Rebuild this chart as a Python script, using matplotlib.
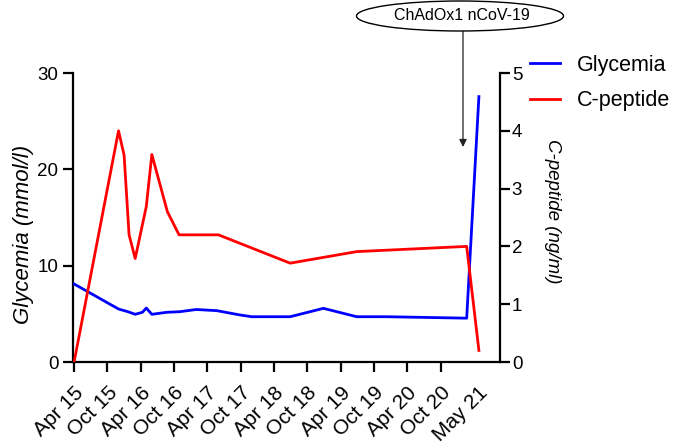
import matplotlib
matplotlib.use("Agg")
import matplotlib.pyplot as plt
from matplotlib.patches import Ellipse
import numpy as np

plt.rcParams['font.family'] = ['Liberation Sans', 'DejaVu Sans']

# months since April 2015
gly_month = [0, 8, 9.8, 11, 12.3, 13, 14, 16.7, 19, 22, 25.7, 29.9, 32, 38.9, 44.9, 50.9, 56.3, 70.7, 72.9]
gly_value = [8.1, 5.5, 5.2, 4.95, 5.16, 5.6, 4.95, 5.16, 5.22, 5.45, 5.33, 4.88, 4.7, 4.7, 5.57, 4.7, 4.7, 4.55, 27.55]

cpep_month = [0, 8, 9, 9.9, 11, 13, 14, 16.8, 18.9, 26, 38.9, 50.9, 70.7, 72.9]
cpep_value = [0, 4.0, 3.58, 2.2, 1.79, 2.69, 3.59, 2.6, 2.2, 2.2, 1.71, 1.91, 2.0, 0.2]

tick_months = [0, 6, 12, 18, 24, 30, 36, 42, 48, 54, 60, 66, 72.7]
tick_labels = ['Apr 15', 'Oct 15', 'Apr 16', 'Oct 16', 'Apr 17', 'Oct 17', 'Apr 18',
               'Oct 18', 'Apr 19', 'Oct 19', 'Apr 20', 'Oct 20', 'May 21']

W, H = 683, 444
fig = plt.figure(figsize=(W/100, H/100), dpi=100)
L, R, T, B = 73, 500, 73, 362
ax = fig.add_axes([L/W, 1-B/H, (R-L)/W, (B-T)/H])
ax2 = ax.twinx()

lg, = ax.plot(gly_month, gly_value, color='#0000FF', lw=2.0, label='Glycemia', zorder=3)
lc, = ax2.plot(cpep_month, cpep_value, color='#FF0000', lw=2.0, label='C-peptide', zorder=3)

ax.set_xlim(-0.2, 76.7)
ax.set_ylim(0, 30)
ax2.set_ylim(0, 5)
ax.set_yticks([0, 10, 20, 30])
ax2.set_yticks([0, 1, 2, 3, 4, 5])

ax.set_xticks(tick_months)
ax.set_xticklabels(tick_labels, rotation=45, ha='right', rotation_mode='anchor', fontsize=15)
ax.get_xticklines()[-2].set_visible(False)

for a in (ax, ax2):
    for s in a.spines.values():
        s.set_linewidth(1.6)
    a.spines['top'].set_visible(False)
ax.spines['right'].set_visible(False)
ax2.spines['left'].set_visible(False)
ax2.spines['bottom'].set_visible(False)

ax.tick_params(axis='y', direction='out', length=7, width=1.6, labelsize=13.5, pad=3.5)
ax.tick_params(axis='x', direction='out', length=7, width=1.6, labelsize=15, pad=8)
ax2.tick_params(axis='y', direction='out', length=7, width=1.6, labelsize=13.5, pad=1.5)

fig.text(24/W, 1-234/H, 'Glycemia (mmol/l)', rotation=90, style='italic', fontsize=16,
         ha='center', va='center')
fig.text(553/W, 1-211.5/H, 'C-peptide (ng/ml)', rotation=270, style='italic', fontsize=13.5,
         ha='center', va='center')

fig.legend(handles=[lg, lc], loc='upper left', bbox_to_anchor=(530/W, 1-55/H),
           frameon=False, fontsize=15.5, handlelength=1.4, handletextpad=0.8,
           labelspacing=0.66, borderpad=0, borderaxespad=0)

# annotation ellipse + arrow
ell = Ellipse((460/W, 1-16/H), 207/W, 30/H, transform=fig.transFigure,
              facecolor='white', edgecolor='black', lw=1.0)
fig.patches.append(ell)
fig.text(462/W, 1-16/H, 'ChAdOx1 nCoV-19', fontsize=11.5, ha='center', va='center')
ax.annotate('', xy=(463, H-147), xycoords='figure pixels',
            xytext=(463, H-31), textcoords='figure pixels',
            arrowprops=dict(arrowstyle='-|>', color='#222222', lw=0.9, mutation_scale=11,
                            shrinkA=0, shrinkB=0))

fig.savefig('out.png', dpi=100)
